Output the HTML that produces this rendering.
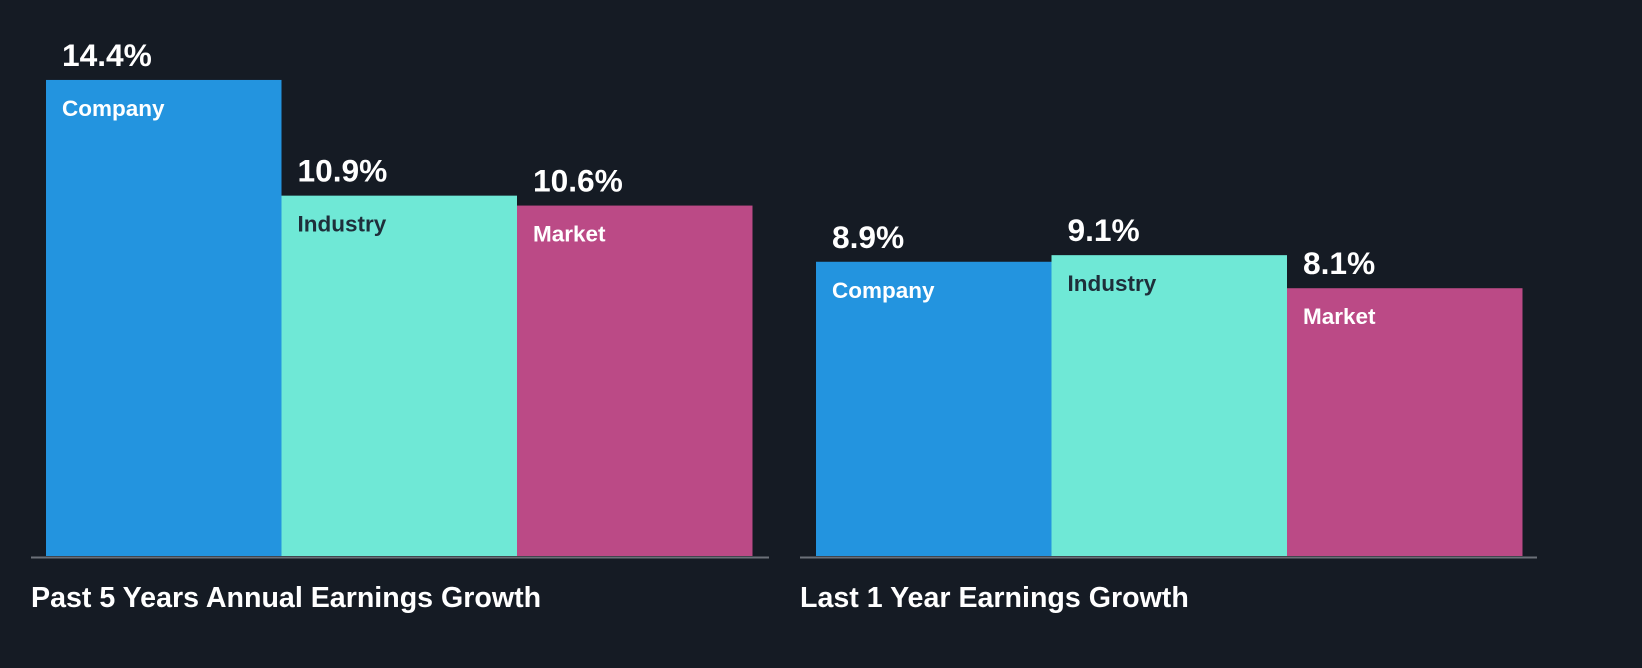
<!DOCTYPE html>
<html><head><meta charset="utf-8"><style>
html,body{margin:0;padding:0;background:#151b24;}
svg{display:block;font-family:"Liberation Sans",Arial,sans-serif;font-weight:bold;}
</style></head><body>
<svg id="chart" width="1642" height="668" viewBox="0 0 1642 668" xmlns="http://www.w3.org/2000/svg">
<rect width="1642" height="668" fill="#151b24"/>
</svg>
<script>
const groupTitles = ["Past 5 Years Annual Earnings Growth", "Last 1 Year Earnings Growth"];
const categories = ["Company", "Industry", "Market"];
const past5Values = [14.4, 10.9, 10.6];
const last1Values = [8.9, 9.1, 8.1];
const valueLabels5 = ["14.4%", "10.9%", "10.6%"];
const valueLabels1 = ["8.9%", "9.1%", "8.1%"];

const svg = document.getElementById('chart');
const NS = 'http://www.w3.org/2000/svg';
const baseY = 556, pxPer = 33.06, barW = 235.5;
const colors = ["#2394df", "#6fe8d6", "#bb4a86"];
const labelColors = ["#ffffff", "#1e2e3a", "#ffffff"];
function y(v){ return baseY - v * pxPer; }
function mk(tag, attrs){ const e = document.createElementNS(NS, tag); for (const k in attrs) e.setAttribute(k, attrs[k]); svg.appendChild(e); return e; }

const groups = [
  {x0: 46, axis: [31, 769], values: past5Values, labels: valueLabels5, title: groupTitles[0], tx: 31, key: 'past-5-years'},
  {x0: 816, axis: [800, 1537], values: last1Values, labels: valueLabels1, title: groupTitles[1], tx: 800, key: 'last-1-year'}
];
groups.forEach(g => {
  g.values.forEach((v, i) => {
    const x = g.x0 + i * barW;
    const r = mk('rect', {x: x, y: y(v), width: barW, height: baseY - y(v), fill: colors[i]});
    
    
    const t = mk('text', {x: x + 16, y: y(v) - 14, fill: '#ffffff', 'font-size': 31.7});
    t.textContent = g.labels[i];
    
    
    const c = mk('text', {x: x + 16, y: y(v) + 36, fill: labelColors[i], 'font-size': 22.5});
    c.textContent = categories[i];
    
    
  });
  const a = mk('line', {x1: g.axis[0], x2: g.axis[1], y1: baseY + 1.5, y2: baseY + 1.5, stroke: '#6b7079', 'stroke-width': 2});
  
  
  const tt = mk('text', {x: g.tx, y: 607, fill: '#ffffff', 'font-size': 28.6});
  tt.textContent = g.title;
  
  
});
</script>
</body></html>
